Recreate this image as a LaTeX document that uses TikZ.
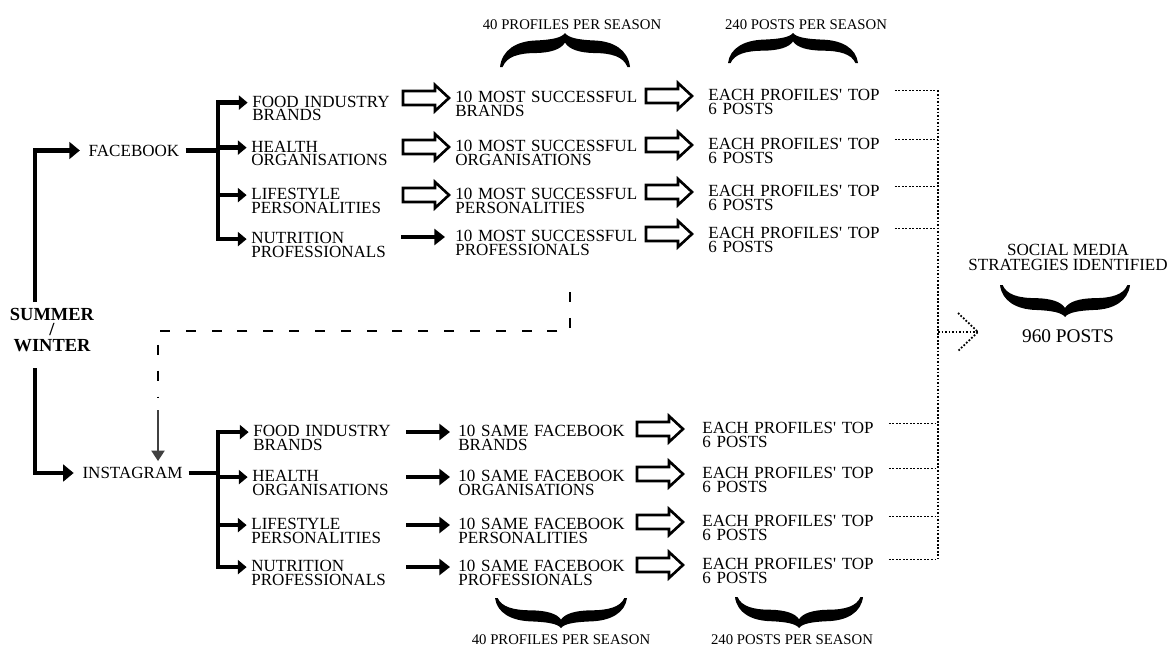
\documentclass[tikz,border=0pt]{standalone}
\usepackage{fontspec}
\setmainfont{Liberation Serif}
\usepackage{tikz}
\usetikzlibrary{arrows.meta,calc}

\begin{document}
\begin{tikzpicture}[
  x=0.02cm,y=-0.02cm,
  font=\fontsize{9.7}{7.9}\selectfont,
  catg/.style={anchor=base west,inner sep=0pt,align=left,text width=3.2cm},
  pick/.style={catg,text width=3.8cm},
  posts/.style={catg,text width=3.6cm},
  note/.style={font=\fontsize{8.4}{10}\selectfont},
  thickln/.style={line width=2.5pt},
  arr/.style={thickln,-{Triangle[length=6pt,width=9.5pt]},shorten >=1.5pt},
  barr/.style={thickln,-{Triangle[length=5pt,width=8pt]},shorten >=2.5pt},
  sarr/.style={thickln,-{Triangle[length=6pt,width=9pt]},
    to path={($(\tikztotarget)+(-#1-44,-4.5)$) -- ($(\tikztotarget)+(-#1,-4.5)$)}},
  harr/.style={draw,line width=1.5pt,fill=white,
    to path={($(\tikztotarget)+(-#1-46,-11.5)$) -- ($(\tikztotarget)+(-#1-14,-11.5)$)
      -- ($(\tikztotarget)+(-#1-14,-17.5)$) -- ($(\tikztotarget)+(-#1,-4.5)$)
      -- ($(\tikztotarget)+(-#1-14,8.5)$) -- ($(\tikztotarget)+(-#1-14,2.5)$)
      -- ($(\tikztotarget)+(-#1-46,2.5)$) -- cycle}},
  dotline/.style={line width=1pt,dash pattern=on 1pt off 1pt},
  dashline/.style={line width=0.9pt,dash pattern=on 5.7pt off 9pt},
  garr/.style={line width=1.1pt,black!75,-{Triangle[length=6pt,width=7.5pt]}},
  brc/.pic={\fill (-1,0) .. controls (-0.97,0.5) and (-0.75,0.76) .. (-0.45,0.78)
      .. controls (-0.2,0.8) and (-0.05,0.86) .. (0,1)
      .. controls (0.05,0.86) and (0.2,0.8) .. (0.45,0.78)
      .. controls (0.75,0.76) and (0.97,0.5) .. (1,0) -- (0.96,0)
      .. controls (0.9,0.3) and (0.72,0.41) .. (0.45,0.41)
      .. controls (0.22,0.42) and (0.06,0.52) .. (0,0.72)
      .. controls (-0.06,0.52) and (-0.22,0.42) .. (-0.45,0.41)
      .. controls (-0.72,0.41) and (-0.9,0.3) .. (-0.96,0) -- cycle;}
]
  \useasboundingbox (0,0) rectangle (1172,649);

  \node[font=\bfseries\fontsize{10.5}{8.8}\selectfont,align=center] (sw) at (52,330) {SUMMER\\/\\WINTER};
  \node (fb) at (134,150.5) {FACEBOOK};
  \node (ig) at (132.5,473) {INSTAGRAM};
  \coordinate (swx) at (35,0);
  \coordinate (fbj) at (218,150.5);
  \coordinate (igj) at (218,473);
  \coordinate (vx) at (938,0);
  \draw[arr] (sw.north -| swx) |- (fb.west);
  \draw[arr] ([yshift=-6pt]sw.south -| swx) |- (ig.west);
  \draw[thickln] (fb.east) -- (fbj); \draw[thickln] (ig.east) -- (igj);

  \node[catg] (fbf) at (252,107) {FOOD INDUSTRY\\BRANDS};
  \node[catg] (fbh) at (251,152) {HEALTH\\ORGANISATIONS};
  \node[catg] (fbl) at (251,199.5) {LIFESTYLE\\PERSONALITIES};
  \node[catg] (fbn) at (251,243.5) {NUTRITION\\PROFESSIONALS};
  \draw[barr] (fbj) |- ([yshift=2.5pt]fbf.base west); \draw[barr] (fbj) |- ([yshift=2.5pt]fbh.base west);
  \draw[barr] (fbj) |- ([yshift=2.5pt]fbl.base west); \draw[barr] (fbj) |- ([yshift=2.5pt]fbn.base west);

  \node[pick] (fbm1) at (455,102.5) {10 MOST SUCCESSFUL\\BRANDS};
  \node[pick] (fbm2) at (455,151.5) {10 MOST SUCCESSFUL\\ORGANISATIONS};
  \node[pick] (fbm3) at (455,199.5) {10 MOST SUCCESSFUL\\PERSONALITIES};
  \node[pick] (fbm4) at (455,241.5) {10 MOST SUCCESSFUL\\PROFESSIONALS};
  \draw[harr=6] (fbf.base east) to (fbm1.base west); \draw[harr=6] (fbh.base east) to (fbm2.base west);
  \draw[harr=6] (fbl.base east) to (fbm3.base west); \draw[sarr=10] (fbn.base east) to (fbm4.base west);

  \node[posts] (fbp1) at (708,100.5) {EACH PROFILES\textquotesingle{} TOP\\6 POSTS};
  \node[posts] (fbp2) at (708,149.5) {EACH PROFILES\textquotesingle{} TOP\\6 POSTS};
  \node[posts] (fbp3) at (708,196.5) {EACH PROFILES\textquotesingle{} TOP\\6 POSTS};
  \node[posts] (fbp4) at (708,238.5) {EACH PROFILES\textquotesingle{} TOP\\6 POSTS};
  \draw[harr=16] (fbm1.base east) to (fbp1.base west); \draw[harr=16] (fbm2.base east) to (fbp2.base west);
  \draw[harr=16] (fbm3.base east) to (fbp3.base west); \draw[harr=16] (fbm4.base east) to (fbp4.base west);

  \node[catg] (igf) at (253,436.5) {FOOD INDUSTRY\\BRANDS};
  \node[catg] (igh) at (252,481.5) {HEALTH\\ORGANISATIONS};
  \node[catg] (igl) at (251,529.5) {LIFESTYLE\\PERSONALITIES};
  \node[catg] (ign) at (251,571.5) {NUTRITION\\PROFESSIONALS};
  \draw[barr] (igj) |- ([yshift=2.5pt]igf.base west); \draw[barr] (igj) |- ([yshift=2.5pt]igh.base west);
  \draw[barr] (igj) |- ([yshift=2.5pt]igl.base west); \draw[barr] (igj) |- ([yshift=2.5pt]ign.base west);

  \node[pick] (igs1) at (458,436.5) {10 SAME FACEBOOK\\BRANDS};
  \node[pick] (igs2) at (458,481.5) {10 SAME FACEBOOK\\ORGANISATIONS};
  \node[pick] (igs3) at (458,529.5) {10 SAME FACEBOOK\\PERSONALITIES};
  \node[pick] (igs4) at (458,571.5) {10 SAME FACEBOOK\\PROFESSIONALS};
  \draw[sarr=8] (igf.base east) to (igs1.base west); \draw[sarr=8] (igh.base east) to (igs2.base west);
  \draw[sarr=8] (igl.base east) to (igs3.base west); \draw[sarr=8] (ign.base east) to (igs4.base west);

  \node[posts] (igp1) at (702,433.5) {EACH PROFILES\textquotesingle{} TOP\\6 POSTS};
  \node[posts] (igp2) at (702,478.5) {EACH PROFILES\textquotesingle{} TOP\\6 POSTS};
  \node[posts] (igp3) at (702,526.5) {EACH PROFILES\textquotesingle{} TOP\\6 POSTS};
  \node[posts] (igp4) at (702,569.5) {EACH PROFILES\textquotesingle{} TOP\\6 POSTS};
  \draw[harr=19] (igs1.base east) to (igp1.base west); \draw[harr=19] (igs2.base east) to (igp2.base west);
  \draw[harr=19] (igs3.base east) to (igp3.base west); \draw[harr=19] (igs4.base east) to (igp4.base west);

  \draw[dotline,shorten <=3.5pt] ([yshift=5.7pt]fbp1.base east) -- ([yshift=5.7pt]fbp1.base east -| vx);
  \draw[dotline,shorten <=3.5pt] ([yshift=5.7pt]fbp2.base east) -- ([yshift=5.7pt]fbp2.base east -| vx);
  \draw[dotline,shorten <=3.5pt] ([yshift=5.7pt]fbp3.base east) -- ([yshift=5.7pt]fbp3.base east -| vx);
  \draw[dotline,shorten <=3.5pt] ([yshift=5.7pt]fbp4.base east) -- ([yshift=5.7pt]fbp4.base east -| vx);
  \draw[dotline,shorten <=3.5pt] ([yshift=5.7pt]igp1.base east) -- ([yshift=5.7pt]igp1.base east -| vx);
  \draw[dotline,shorten <=3.5pt] ([yshift=5.7pt]igp2.base east) -- ([yshift=5.7pt]igp2.base east -| vx);
  \draw[dotline,shorten <=3.5pt] ([yshift=5.7pt]igp3.base east) -- ([yshift=5.7pt]igp3.base east -| vx);
  \draw[dotline,shorten <=3.5pt] ([yshift=5.7pt]igp4.base east) -- ([yshift=5.7pt]igp4.base east -| vx);
  \draw[dotline] ([yshift=5.7pt]fbp1.base east -| vx) -- ([yshift=5.7pt]igp4.base east -| vx);

  \node[align=center,font=\fontsize{9.7}{8.5}\selectfont] (smsi) at (1068,257.5) {SOCIAL MEDIA\\STRATEGIES IDENTIFIED};
  \pic[xscale=65,yscale=32] at (1065,285) {brc};
  \node[font=\fontsize{11}{13}\selectfont] (total) at (1068,336) {960 POSTS};
  \coordinate (dtip) at (978,332);
  \draw[dotline] (dtip -| vx) -- (dtip);
  \draw[dotline] ($(dtip)+(-20,-19)$) -- (dtip) -- ($(dtip)+(-20,19)$);

  \coordinate (dtop) at (570,292);
  \coordinate (dturn) at (570,331);
  \coordinate (dend) at (158,398);
  \draw[dashline] (dtop) -- (dturn) -| (dend);
  \coordinate (gtop) at (158,410);
  \draw[garr] (gtop) -- (gtop |- ig.north);

  \pic[xscale=65,yscale=-34] at (565,67) {brc};
  \node[note] (fbprof) at (572,25) {40 PROFILES PER SEASON};
  \pic[xscale=65,yscale=-30] at (793,63) {brc};
  \node[note] (fbpost) at (806,25) {240 POSTS PER SEASON};
  \pic[xscale=66,yscale=30] at (561,598) {brc};
  \node[note] (igprof) at (561,640) {40 PROFILES PER SEASON};
  \pic[xscale=64,yscale=31] at (799,597) {brc};
  \node[note] (igpost) at (792,640) {240 POSTS PER SEASON};
\end{tikzpicture}
\end{document}
